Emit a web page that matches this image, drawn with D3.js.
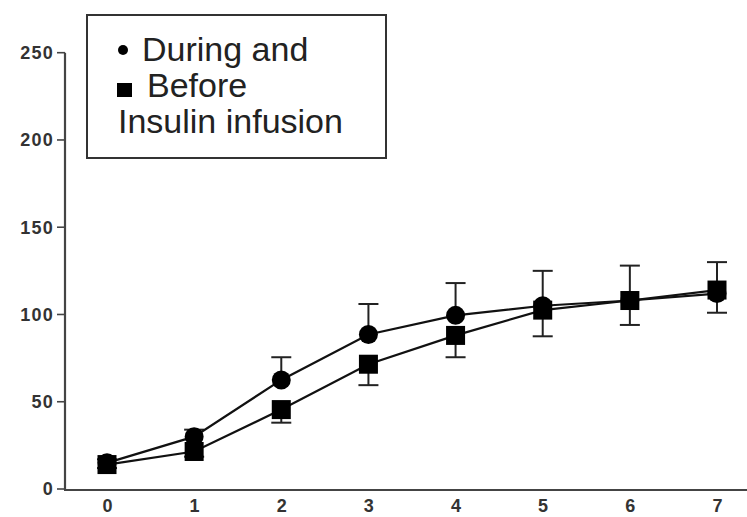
<!DOCTYPE html>
<html>
<head>
<meta charset="utf-8">
<script src="https://d3js.org/d3.v7.min.js"></script>
<style>
    body {
        margin: 0;
        background-color: white;
    }

    svg {
        display: block;
    }

    .tick-label {
        font-family: "Liberation Sans", Arial, sans-serif;
        font-weight: bold;
        font-size: 18px;
        letter-spacing: 1.2px;
        fill: #333;
    }

    .legend-text {
        font-family: "Liberation Sans", Arial, sans-serif;
        font-size: 34px;
        fill: #222;
    }
</style>
</head>
<body>
<svg></svg>
<script>
    const days = [0, 1, 2, 3, 4, 5, 6, 7];
    const during = [15, 30, 62.5, 88.5, 99.5, 105, 108, 112];
    const before = [14, 21.5, 45.5, 71.5, 88, 102.5, 108, 114];
    // one-sided error bars: up for "during", down for "before"
    const duringErr = [2, 4, 13, 17.5, 18.5, 20, 20, 18];
    const beforeErr = [2, 3, 7.5, 12, 12.5, 15, 14, 13];
    const yTicks = [0, 50, 100, 150, 200, 250];
    const legendLines = ["During and", "Before", "Insulin infusion"];

    function createVis() {
        let width = 747;
        let height = 517;
        let svg = d3.select("svg")
            .attr("width", width)
            .attr("height", height);

        let xScale = d3.scaleLinear()
            .domain([0, 7])
            .range([107, 717]);
        let yScale = d3.scaleLinear()
            .domain([0, 250])
            .range([489, 52.7]);

        let axisX = 65;
        let axisY = yScale(0) + 1;

        // y axis
        svg.append("line")
            .attr("x1", axisX).attr("x2", axisX)
            .attr("y1", yScale(250)).attr("y2", axisY)
            .attr("stroke", "#444").attr("stroke-width", 2.2);
        svg.selectAll(".ytick")
            .data(yTicks)
            .join("line")
            .attr("class", "ytick")
            .attr("x1", axisX - 8).attr("x2", axisX)
            .attr("y1", d => yScale(d)).attr("y2", d => yScale(d))
            .attr("stroke", "#444").attr("stroke-width", 1.6);
        svg.selectAll(".ylabel")
            .data(yTicks)
            .join("text")
            .attr("class", "tick-label ylabel")
            .attr("x", axisX - 11)
            .attr("y", d => yScale(d))
            .attr("dy", "0.35em")
            .attr("text-anchor", "end")
            .text(d => d);

        // x axis
        svg.append("line")
            .attr("x1", axisX - 1).attr("x2", 747)
            .attr("y1", axisY).attr("y2", axisY)
            .attr("stroke", "#444").attr("stroke-width", 2.2);
        svg.selectAll(".xlabel")
            .data(days)
            .join("text")
            .attr("class", "tick-label xlabel")
            .attr("x", d => xScale(d) + 1)
            .attr("y", 506)
            .attr("dy", "0.35em")
            .attr("text-anchor", "middle")
            .text(d => d);

        // error bars
        let bars = days.map((d, i) => ({x: d, from: during[i], to: during[i] + duringErr[i]}))
            .concat(days.map((d, i) => ({x: d, from: before[i], to: before[i] - beforeErr[i]})));
        let eb = svg.append("g").attr("stroke", "#222").attr("stroke-width", 2);
        eb.selectAll(".stem")
            .data(bars)
            .join("line")
            .attr("x1", d => xScale(d.x)).attr("x2", d => xScale(d.x))
            .attr("y1", d => yScale(d.from)).attr("y2", d => yScale(d.to));
        eb.selectAll(".cap")
            .data(bars)
            .join("line")
            .attr("x1", d => xScale(d.x) - 10).attr("x2", d => xScale(d.x) + 10)
            .attr("y1", d => yScale(d.to)).attr("y2", d => yScale(d.to));

        let line = d3.line()
            .x((d, i) => xScale(days[i]))
            .y(d => yScale(d));

        [during, before].forEach(series => {
            svg.append("path")
                .attr("d", line(series))
                .attr("fill", "none")
                .attr("stroke", "#111")
                .attr("stroke-width", 2.2);
        });

        // markers
        svg.selectAll(".sq")
            .data(before)
            .join("rect")
            .attr("x", (d, i) => xScale(days[i]) - 9.5)
            .attr("y", d => yScale(d) - 9.5)
            .attr("width", 19).attr("height", 19)
            .attr("fill", "#000");
        svg.selectAll(".dot")
            .data(during)
            .join("circle")
            .attr("cx", (d, i) => xScale(days[i]))
            .attr("cy", d => yScale(d))
            .attr("r", 9.5)
            .attr("fill", "#000");

        // legend box
        svg.append("rect")
            .attr("x", 87).attr("y", 15)
            .attr("width", 299).attr("height", 143)
            .attr("fill", "white")
            .attr("stroke", "#333").attr("stroke-width", 2);
        svg.append("circle")
            .attr("cx", 123).attr("cy", 50).attr("r", 5)
            .attr("fill", "#000");
        svg.append("rect")
            .attr("x", 117).attr("y", 83)
            .attr("width", 15).attr("height", 14)
            .attr("fill", "#000");
        let legendX = [142, 147, 118];
        svg.selectAll(".legend-text")
            .data(legendLines)
            .join("text")
            .attr("class", "legend-text")
            .attr("x", (d, i) => legendX[i])
            .attr("y", (d, i) => 61 + i * 36)
            .text(d => d);
    }
    createVis();
</script>
</body>
</html>
